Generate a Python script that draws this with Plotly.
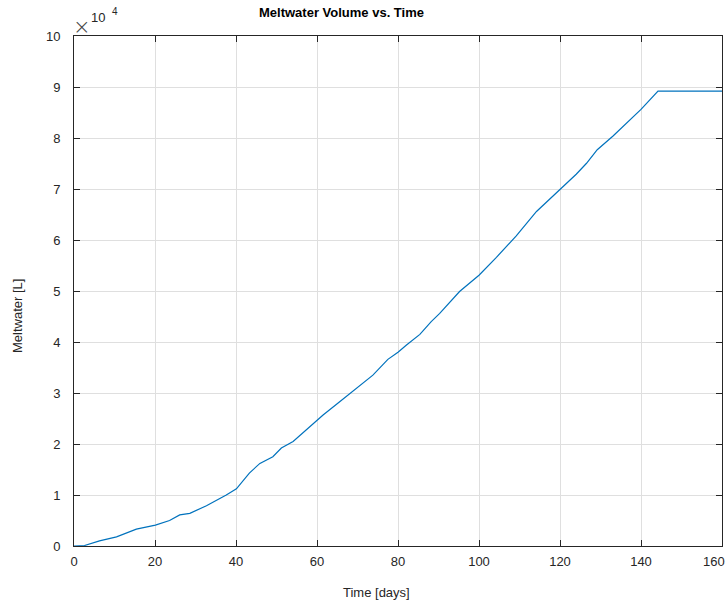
import plotly.graph_objects as go

# Data (days, litres)
days = [0, 2.6, 6.3, 10.5, 15.4, 20.1, 23.6, 26.1, 28.6, 32.7, 37.6, 40.1,
        43.3, 45.9, 49.1, 51.2, 54.1, 57.0, 60.0, 61.5, 65.6, 69.7, 73.8,
        77.5, 80.0, 82.1, 85.4, 88.2, 90.3, 95.2, 100.0, 104.3, 109.2,
        114.2, 120.0, 124.0, 126.5, 129.2, 133.1, 136.4, 140.0, 144.2, 160.0]
volume_1e4 = [0, 0.01, 0.10, 0.18, 0.33, 0.41, 0.50, 0.61, 0.64, 0.79, 1.0, 1.12,
              1.43, 1.62, 1.75, 1.92, 2.05, 2.25, 2.47, 2.57, 2.83, 3.09, 3.35,
              3.66, 3.80, 3.94, 4.15, 4.40, 4.56, 4.99, 5.31, 5.66, 6.08,
              6.56, 6.99, 7.29, 7.50, 7.77, 8.04, 8.29, 8.56, 8.92, 8.92]
volume = [v * 1e4 for v in volume_1e4]

x_ticks = [0, 20, 40, 60, 80, 100, 120, 140, 160]
y_tick_labels = ["0", "1", "2", "3", "4", "5", "6", "7", "8", "9", "10"]
y_ticks = [int(t) * 1e4 for t in y_tick_labels]

W, H = 725, 601
L, R, T, B = 74, 3, 36, 55
PW, PH = W - L - R, H - T - B
FONT = "Liberation Sans, Arial, Helvetica, sans-serif"

fig = go.Figure()
fig.add_trace(go.Scatter(x=days, y=volume, mode="lines",
                         line=dict(color="#0072BD", width=1.2),
                         showlegend=False, hoverinfo="skip"))

axis_common = dict(showline=True, linecolor="#262626", linewidth=1, mirror="ticks",
                   ticks="inside", ticklen=6, tickcolor="#262626", tickwidth=1,
                   showgrid=True, gridcolor="#dfdfdf", gridwidth=1, zeroline=False,
                   tickfont=dict(family=FONT, size=13, color="#262626"))

# last x label is drawn as an annotation (shifted inward, as in the reference)
x_text = [str(t) for t in x_ticks[:-1]] + [""]
fig.update_xaxes(range=[0, 160], tickvals=x_ticks, ticktext=x_text,
                 ticklabelstandoff=3, **axis_common)
fig.update_yaxes(range=[0, 1e5], tickvals=y_ticks, ticktext=y_tick_labels,
                 ticklabelstandoff=10, **axis_common)

def px_x(px):
    return (px - L) / PW

def px_y(py):
    return (H - B - py) / PH

annos = [
    dict(text="<b>Meltwater Volume vs. Time</b>", x=px_x(341), y=px_y(13),
         font=dict(size=13, family=FONT, color="#000000")),
    dict(text="Time [days]", x=px_x(376), y=px_y(592),
         font=dict(size=13, family=FONT, color="#262626")),
    dict(text="Meltwater [L]", x=px_x(17), y=px_y(316), textangle=-90,
         font=dict(size=13, family=FONT, color="#262626")),
    dict(text="×", x=px_x(82), y=px_y(27),
         font=dict(size=21, family="DejaVu Sans, sans-serif",
                   color="#444444", weight=300)),
    dict(text="10", x=px_x(98), y=px_y(18),
         font=dict(size=13, family=FONT, color="#262626")),
    dict(text="4", x=px_x(115), y=px_y(12),
         font=dict(size=10, family=FONT, color="#262626")),
    dict(text=str(x_ticks[-1]), x=px_x(714), y=px_y(561),
         font=dict(size=13, family=FONT, color="#262626")),
]
for a in annos:
    fig.add_annotation(xref="paper", yref="paper", showarrow=False,
                       xanchor="center", yanchor="middle", **a)

fig.update_layout(width=W, height=H, margin=dict(l=L, r=R, t=T, b=B),
                  paper_bgcolor="white", plot_bgcolor="white",
                  font=dict(family=FONT, color="#262626"))

fig.write_html("out.html")
